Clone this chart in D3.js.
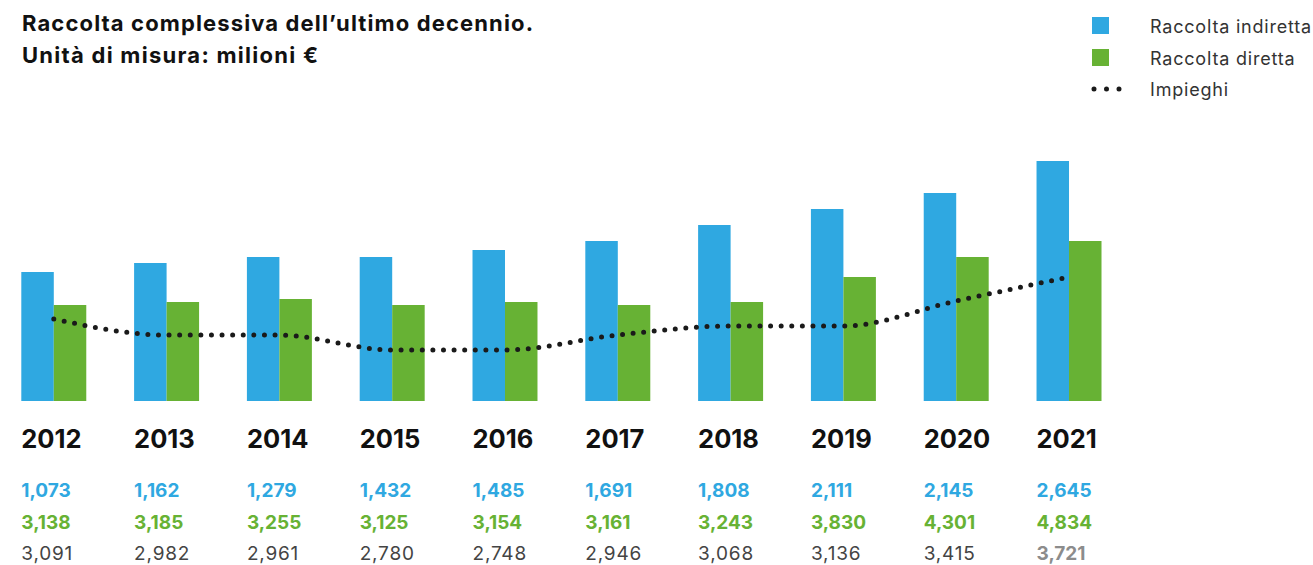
<!DOCTYPE html>
<html lang="it">
    <head>
        <meta charset="UTF-8" />
        <title>Raccolta complessiva</title>
        <style>
            body { margin: 0; background: #fff; }
            .chart { width: 1313px; height: 565px; }
            text { font-family: Inter, "Liberation Sans", sans-serif; }
        </style>
    </head>
    <body>
        <div class="chart"></div>

        <script src="https://d3js.org/d3.v7.min.js"></script>

        <script>
            // anni
            const years = ['2012', '2013', '2014', '2015', '2016', '2017', '2018', '2019', '2020', '2021']

            // valori riportati sotto il grafico (milioni €)
            const indiretta = [1073, 1162, 1279, 1432, 1485, 1691, 1808, 2111, 2145, 2645]
            const diretta = [3138, 3185, 3255, 3125, 3154, 3161, 3243, 3830, 4301, 4834]
            const impieghi = [3091, 2982, 2961, 2780, 2748, 2946, 3068, 3136, 3415, 3721]

            // altezze relative delle barre / della linea come disegnate nel grafico (non in scala con i valori)
            const barIndiretta = [129, 138, 144, 144, 151, 160, 176, 192, 208, 240]
            const barDiretta = [96, 99, 102, 96, 99, 96, 99, 124, 144, 160]
            const lineImpieghi = [82, 66, 66, 51, 51, 66, 75, 75, 100, 124]

            const seriesKeys = ['indiretta', 'diretta']
            const legendLabels = ['Raccolta indiretta', 'Raccolta diretta', 'Impieghi']
            const titleLines = ['Raccolta complessiva dell’ultimo decennio.', 'Unità di misura: milioni €']

            const blue = '#2fa8e1'
            const green = '#67b234'

            const width = 1313
            const height = 565
            const baseY = 401

            const svg = d3.select('.chart')
              .append('svg')
              .attr('width', width)
              .attr('height', height)

            // titolo (larghezze come nell'originale)
            const titleWidths = [511, 296]
            svg.append('g')
              .selectAll('text')
              .data(titleLines)
              .join('text')
              .attr('x', 22)
              .attr('y', (d, i) => 31 + i * 32)
              .attr('textLength', (d, i) => titleWidths[i])
              .attr('lengthAdjust', 'spacing')
              .style('font-size', '22px')
              .style('font-weight', 'bold')
              .style('fill', '#111')
              .text(d => d)

            // scale
            const xScale = d3.scaleBand()
              .domain(years)
              .range([21.3, 1101.5])
              .paddingInner(0.424)
              .paddingOuter(0)

            const xSub = d3.scaleBand()
              .domain(seriesKeys)
              .range([0, xScale.bandwidth()])

            const yScale = d3.scaleLinear()
              .domain([0, 240])
              .range([baseY, baseY - 240])

            const color = d3.scaleOrdinal()
              .domain(seriesKeys)
              .range([blue, green])

            const rows = years.map((y, i) => ({
              year: y,
              indiretta: barIndiretta[i],
              diretta: barDiretta[i]
            }))

            // barre
            svg.append('g')
              .selectAll('g')
              .data(rows)
              .join('g')
              .attr('transform', d => `translate(${xScale(d.year)}, 0)`)
              .selectAll('rect')
              .data(d => seriesKeys.map(key => ({ key: key, value: d[key] })))
              .join('rect')
              .attr('x', d => xSub(d.key))
              .attr('y', d => yScale(d.value))
              .attr('width', xSub.bandwidth())
              .attr('height', d => yScale(0) - yScale(d.value))
              .attr('fill', d => color(d.key))

            // linea tratteggiata impieghi
            const line = d3.line()
              .x((d, i) => xScale(years[i]) + xSub('diretta'))
              .y(d => yScale(d))
              .curve(d3.curveMonotoneX)

            svg.append('path')
              .datum(lineImpieghi)
              .attr('d', line)
              .attr('fill', 'none')
              .attr('stroke', '#1a1a1a')
              .attr('stroke-width', 5)
              .attr('stroke-linecap', 'round')
              .attr('stroke-dasharray', '0 10.6')

            // etichette anni e valori
            const fmt = d3.format(',')

            const labels = svg.append('g')
              .selectAll('g')
              .data(years)
              .join('g')
              .attr('transform', d => `translate(${xScale(d)}, 0)`)

            labels.append('text')
              .attr('y', 448)
              .style('font-size', '25.5px')
              .style('font-weight', 'bold')
              .style('fill', '#111')
              .text(d => d)

            labels.append('text')
              .attr('y', 497)
              .style('font-size', '19px')
              .style('font-weight', 'bold')
              .style('fill', blue)
              .text((d, i) => fmt(indiretta[i]))

            labels.append('text')
              .attr('y', 529)
              .style('font-size', '19px')
              .style('font-weight', 'bold')
              .style('fill', green)
              .text((d, i) => fmt(diretta[i]))

            labels.append('text')
              .attr('y', 560)
              .style('font-size', '19px')
              .style('letter-spacing', (d, i) => i === years.length - 1 ? '0px' : '0.8px')
              .style('font-weight', (d, i) => i === years.length - 1 ? 'bold' : 'normal')
              .style('fill', (d, i) => i === years.length - 1 ? '#8c8c8c' : '#444')
              .text((d, i) => fmt(impieghi[i]))

            // legenda
            const legend = svg.append('g')
              .attr('transform', 'translate(1092, 0)')

            legend.selectAll('rect')
              .data(seriesKeys)
              .join('rect')
              .attr('x', 0)
              .attr('y', (d, i) => 17 + i * 32)
              .attr('width', 17)
              .attr('height', 17)
              .attr('fill', d => color(d))

            legend.append('line')
              .attr('x1', 2)
              .attr('x2', 28)
              .attr('y1', 89)
              .attr('y2', 89)
              .attr('stroke', '#1a1a1a')
              .attr('stroke-width', 5)
              .attr('stroke-linecap', 'round')
              .attr('stroke-dasharray', '0 12.5')

            legend.selectAll('text')
              .data(legendLabels)
              .join('text')
              .attr('x', 58)
              .attr('y', (d, i) => 33 + i * 31.5)
              .style('font-size', '18px')
              .style('letter-spacing', '0.8px')
              .style('fill', '#333')
              .text(d => d)
        </script>
    </body>
</html>
